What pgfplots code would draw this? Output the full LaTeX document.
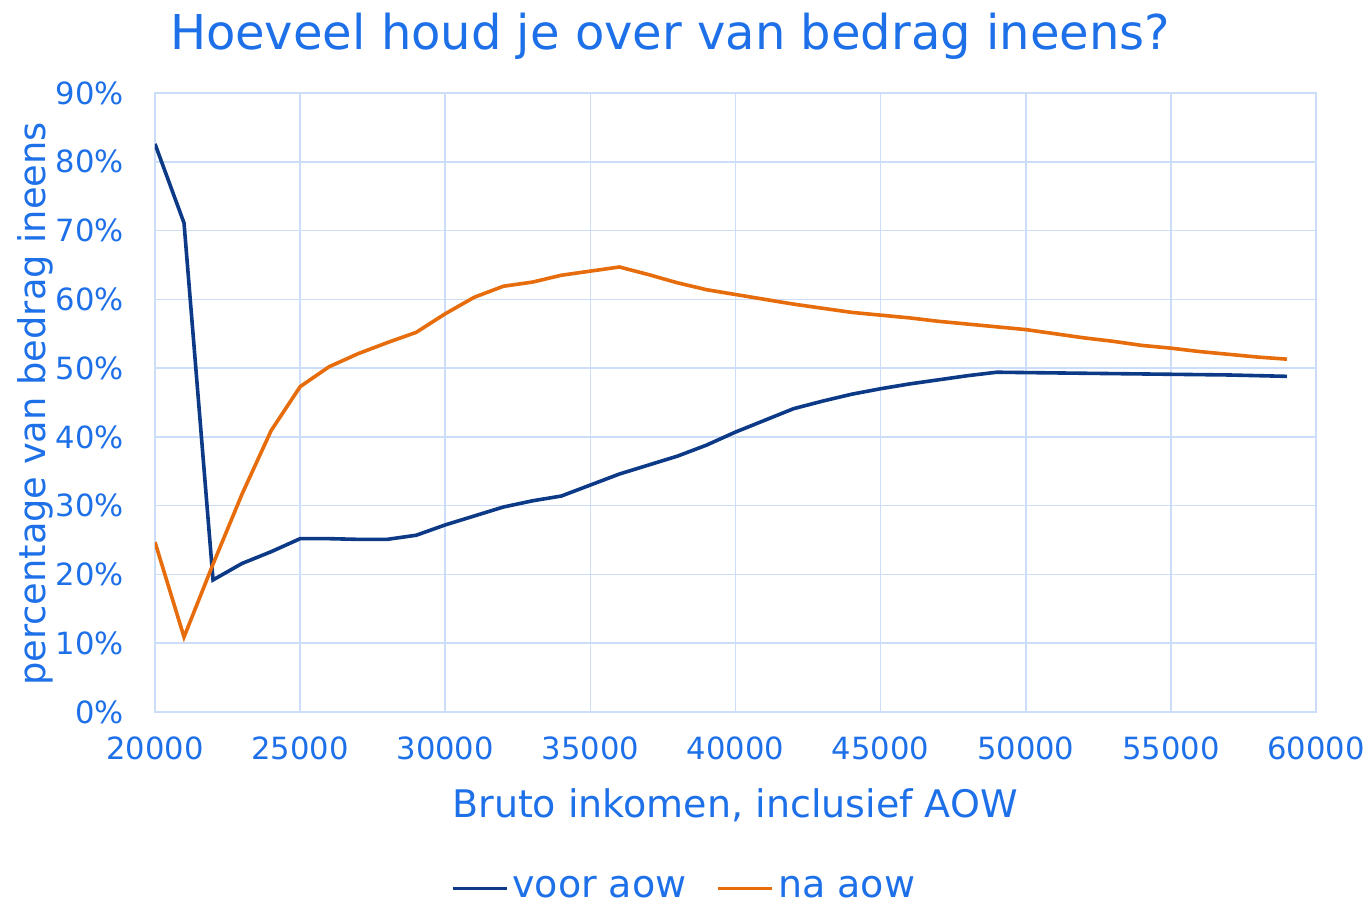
\documentclass[border=0pt]{standalone}
\usepackage{fontspec}
\setmainfont{DejaVu Sans}
\usepackage{pgfplots}
\pgfplotsset{compat=1.18}
\definecolor{txtblue}{RGB}{30,112,232}
\definecolor{gridc}{RGB}{204,221,250}
\definecolor{navy}{RGB}{12,58,135}
\definecolor{oranje}{RGB}{230,108,12}

\pgfplotstableread{
x     voor  na
20000 82.6  24.7
21000 71.1  10.9
22000 19.2  21.5
23000 21.6  31.7
24000 23.3  40.9
25000 25.2  47.3
26000 25.2  50.2
27000 25.1  52.1
28000 25.1  53.7
29000 25.7  55.2
30000 27.2  57.9
31000 28.5  60.3
32000 29.8  61.9
33000 30.7  62.5
34000 31.4  63.5
35000 33.0  64.1
36000 34.6  64.7
37000 35.9  63.6
38000 37.2  62.4
39000 38.8  61.4
40000 40.7  60.7
41000 42.4  60.0
42000 44.1  59.3
43000 45.2  58.7
44000 46.2  58.1
45000 47.0  57.7
46000 47.7  57.3
47000 48.3  56.8
48000 48.9  56.4
49000 49.4  56.0
50000 49.35 55.6
51000 49.3  55.0
52000 49.25 54.4
53000 49.2  53.9
54000 49.15 53.3
55000 49.1  52.9
56000 49.05 52.4
57000 49.0  52.0
58000 48.9  51.6
59000 48.8  51.3
}\datatable

\begin{document}
\begin{tikzpicture}
\begin{axis}[
    at={(0,0)}, anchor=south west,
    scale only axis,
    width=580.5pt, height=309.5pt,
    xmin=20000, xmax=60000,
    ymin=0, ymax=90,
    xtick={20000,25000,...,60000},
    ytick={0,10,...,90},
    scaled x ticks=false,
    /pgf/number format/1000 sep={},
    /pgf/number format/assume math mode=true,
    yticklabel={\pgfmathprintnumber{\tick}\%},
    major tick length=0pt,
    grid=major,
    grid style={gridc, line width=0.8pt},
    axis line style={gridc, line width=0.9pt},
    ticklabel style={font=\fontsize{15.3}{18}\selectfont, text=txtblue},
    xticklabel style={yshift=-9pt},
    yticklabel style={xshift=-12pt},
    legend columns=2,
    legend style={at={(0.4565,-0.285)}, anchor=center, draw=none, fill=none,
        font=\fontsize{19}{22}\selectfont, text=txtblue,
        /tikz/every even column/.append style={column sep=13pt}},
    legend image code/.code={\draw[#1, line width=1.8pt] (0pt,0pt) -- (27pt,0pt);},
]
\addplot[navy, line width=1.8pt] table[x=x, y=voor] {\datatable};
\addlegendentry{voor aow}
\addplot[oranje, line width=1.8pt] table[x=x, y=na] {\datatable};
\addlegendentry{na aow}
\end{axis}
\node[text=txtblue, font=\fontsize{24}{28}\selectfont] at (257.5pt,338pt) {Hoeveel houd je over van bedrag ineens?};
\node[text=txtblue, font=\fontsize{19}{22}\selectfont] at (290pt,-46.5pt) {Bruto inkomen, inclusief AOW};
\node[text=txtblue, font=\fontsize{18.4}{22}\selectfont, rotate=90] at (-60pt,154pt) {percentage van bedrag ineens};
\pgfresetboundingbox
\path (-77.5pt,-98pt) rectangle (608pt,356pt);
\end{tikzpicture}
\end{document}
